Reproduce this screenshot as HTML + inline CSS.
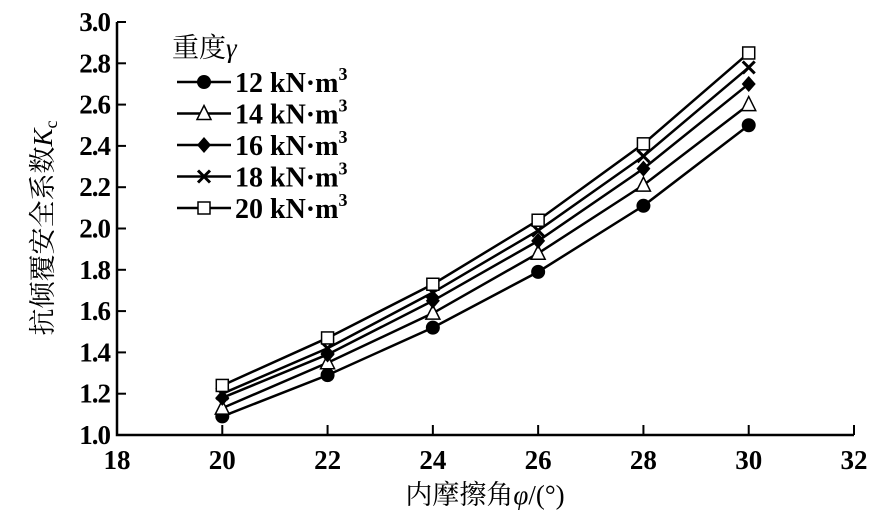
<!DOCTYPE html>
<html><head><meta charset="utf-8"><style>
body{margin:0;background:#fff}
svg{display:block}
text{font-family:"Liberation Serif","Noto Serif CJK SC",serif;fill:#000}
</style></head><body>
<svg width="891" height="511" id="c">
</svg>
<script>
const categories=[20,22,24,26,28,30];
const s12=[1.09,1.29,1.52,1.79,2.11,2.50];
const s14=[1.13,1.35,1.59,1.88,2.21,2.60];
const s16=[1.18,1.39,1.65,1.94,2.29,2.70];
const s18=[1.20,1.42,1.69,1.99,2.35,2.78];
const s20=[1.24,1.47,1.73,2.04,2.41,2.85];
const xTicks=[18,20,22,24,26,28,30,32];
const yTicks=[1.0,1.2,1.4,1.6,1.8,2.0,2.2,2.4,2.6,2.8,3.0];
const seriesLabels=["12","14","16","18","20"];
const NS="http://www.w3.org/2000/svg";
const svg=document.getElementById('c');
const X=v=>117+(v-18)*(854-117)/14;
const Y=v=>435-(v-1)*(435-22)/2;
function el(t,a,p){const e=document.createElementNS(NS,t);for(const k in a)e.setAttribute(k,a[k]);(p||svg).appendChild(e);return e;}
const ax=el('path',{d:`M${X(18)} ${Y(3)}V${Y(1)}H${X(32)}`,stroke:'#000','stroke-width':2.5,fill:'none'});


yTicks.forEach(v=>{
 const t=el('line',{x1:X(18),x2:X(18)+9,y1:Y(v),y2:Y(v),stroke:'#000','stroke-width':2});
 
 
 const l=el('text',{x:X(18)-7,y:Y(v)+9,'text-anchor':'end','font-size':27,'font-weight':'bold','letter-spacing':-1});
 l.textContent=v.toFixed(1);
 
 
});
xTicks.forEach(v=>{
 const t=el('line',{x1:X(v),x2:X(v),y1:Y(1),y2:Y(1)-10,stroke:'#000','stroke-width':2});
 
 
 const l=el('text',{x:X(v),y:Y(1)+34,'text-anchor':'middle','font-size':27,'font-weight':'bold'});
 l.textContent=v;
 
 
});
const xt=el('text',{x:485,y:504,'text-anchor':'middle','font-size':27});
xt.innerHTML='内摩擦角<tspan font-style="italic">φ</tspan>/(°)';


const yt=el('text',{x:0,y:0,'text-anchor':'middle','font-size':27,transform:'translate(52,228) rotate(-90)'});
yt.innerHTML='抗倾覆安全系数<tspan font-style="italic">K</tspan><tspan font-size="18" dy="5">c</tspan>';


function marker(type,x,y,g){
 if(type==0)el('circle',{cx:x,cy:y,r:7,fill:'#000'},g);
 if(type==1)el('path',{d:`M${x} ${y-8}L${x+7} ${y+6}H${x-7}Z`,fill:'#fff',stroke:'#000','stroke-width':1.5},g);
 if(type==2)el('path',{d:`M${x} ${y-8}L${x+7} ${y}L${x} ${y+8}L${x-7} ${y}Z`,fill:'#000'},g);
 if(type==3)el('path',{d:`M${x-6} ${y-6}L${x+6} ${y+6}M${x+6} ${y-6}L${x-6} ${y+6}`,stroke:'#000','stroke-width':3},g);
 if(type==4)el('rect',{x:x-6,y:y-6,width:12,height:12,fill:'#fff',stroke:'#000','stroke-width':1.5},g);
}
const all=[s12,s14,s16,s18,s20];
all.forEach((s,i)=>{
 const g=el('g',{});
 
 
 el('polyline',{points:s.map((v,j)=>X(categories[j])+','+Y(v)).join(' '),fill:'none',stroke:'#000','stroke-width':2.5},g);
 s.forEach((v,j)=>marker(i,X(categories[j]),Y(v),g));
});
const lg=el('g',{});


const lt=el('text',{x:172,y:57,'font-size':27},lg);
lt.innerHTML='重度<tspan font-style="italic">γ</tspan>';
seriesLabels.forEach((lab,i)=>{
 const y=82+i*31.5;
 const e=el('g',{},lg);
 
 
 el('line',{x1:177,x2:231,y1:y,y2:y,stroke:'#000','stroke-width':2.5},e);
 marker(i,204,y,e);
 const t=el('text',{x:235,y:y+10,'font-size':28,'font-weight':'bold'},e);
 t.innerHTML=lab+' kN·m<tspan font-size="18" dy="-12">3</tspan>';
});
</script>
</body></html>
